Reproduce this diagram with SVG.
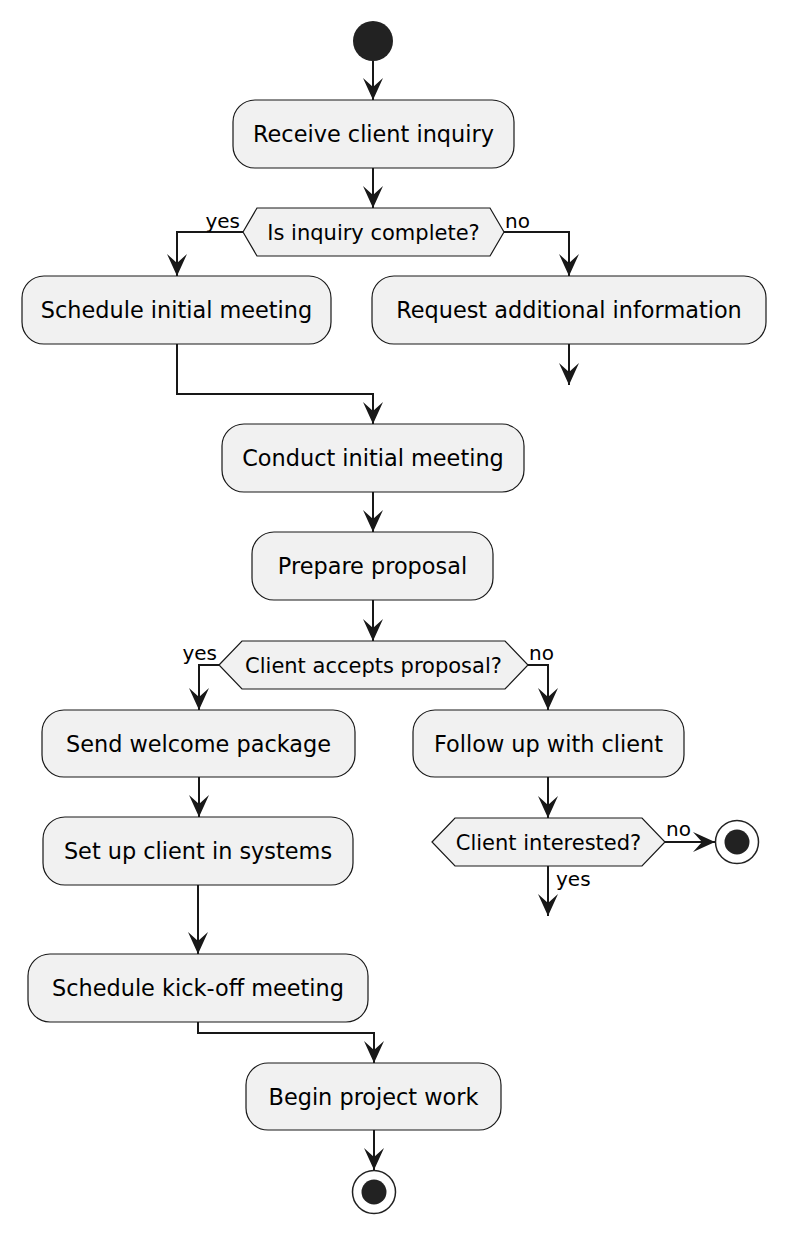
<svg xmlns="http://www.w3.org/2000/svg" width="786" height="1234" viewBox="0 0 786 1234">
<style>
.box{fill:#F1F1F1;stroke:#181818;stroke-width:1.2}
.dia{fill:#F1F1F1;stroke:#181818;stroke-width:1.2}
.t{font-family:"DejaVu Sans",sans-serif;font-size:22.4px;fill:#000;text-anchor:middle}
.dt{font-family:"DejaVu Sans",sans-serif;font-size:21px;fill:#000;text-anchor:middle}
.lbl{font-family:"DejaVu Sans",sans-serif;font-size:20px;fill:#000}
.c{fill:none;stroke:#181818;stroke-width:2;marker-end:url(#ah)}
</style>
<defs>
<marker id="ah" markerUnits="userSpaceOnUse" viewBox="0 0 22 20" refX="22" refY="10" markerWidth="22" markerHeight="20" orient="auto">
<path d="M0,0 L22,10 L0,20 L9,10 Z" fill="#181818"/>
</marker>
</defs>
<rect width="786" height="1234" fill="#FFFFFF"/>
<g id="connectors">
<path class="c" d="M373,61 V100"/>
<path class="c" d="M373,168 V208"/>
<path class="c" d="M243,232 H177 V276"/>
<path class="c" d="M504,232 H569 V276"/>
<path class="c" d="M569,344 V385"/>
<path class="c" d="M177,344 V394 H373 V424"/>
<path class="c" d="M373,492 V532"/>
<path class="c" d="M373,600 V641"/>
<path class="c" d="M219,665 H199 V710"/>
<path class="c" d="M528,665 H548 V710"/>
<path class="c" d="M199,777 V817"/>
<path class="c" d="M548,777 V818"/>
<path class="c" d="M665,842 H715"/>
<path class="c" d="M548,866 V916"/>
<path class="c" d="M198,885 V954"/>
<path class="c" d="M198,1022 V1033 H374 V1063"/>
<path class="c" d="M374,1130 V1170"/>
<text class="lbl" x="240" y="228" text-anchor="end">yes</text>
<text class="lbl" x="505" y="228">no</text>
<text class="lbl" x="217" y="660" text-anchor="end">yes</text>
<text class="lbl" x="529" y="660">no</text>
<text class="lbl" x="666" y="836">no</text>
<text class="lbl" x="556" y="886">yes</text>
</g>
<g id="start"><circle cx="373" cy="41" r="20" fill="#222222"/></g>
<g id="receive"><rect class="box" x="233" y="100" width="281" height="68" rx="22"/><text class="t" x="373.5" y="142">Receive client inquiry</text></g>
<g id="decision1"><polygon class="dia" points="243,232 257,208 490,208 504,232 490,256 257,256"/><text class="dt" x="373.5" y="239.5">Is inquiry complete?</text></g>
<g id="schedule"><rect class="box" x="22" y="276" width="309" height="68" rx="22"/><text class="t" x="176.5" y="318">Schedule initial meeting</text></g>
<g id="request"><rect class="box" x="372" y="276" width="394" height="68" rx="22"/><text class="t" x="569" y="318">Request additional information</text></g>
<g id="conduct"><rect class="box" x="222" y="424" width="302" height="68" rx="22"/><text class="t" x="373" y="466">Conduct initial meeting</text></g>
<g id="prepare"><rect class="box" x="252" y="532" width="241" height="68" rx="22"/><text class="t" x="372.5" y="574">Prepare proposal</text></g>
<g id="decision2"><polygon class="dia" points="219,665 242,641 505,641 528,665 505,689 242,689"/><text class="dt" x="373.5" y="672.5">Client accepts proposal?</text></g>
<g id="send"><rect class="box" x="42" y="710" width="313" height="67" rx="22"/><text class="t" x="198.5" y="751.5">Send welcome package</text></g>
<g id="follow"><rect class="box" x="413" y="710" width="271" height="67" rx="22"/><text class="t" x="548.5" y="751.5">Follow up with client</text></g>
<g id="setup"><rect class="box" x="43" y="817" width="310" height="68" rx="22"/><text class="t" x="198" y="859">Set up client in systems</text></g>
<g id="decision3"><polygon class="dia" points="432,842 455,818 642,818 665,842 642,866 455,866"/><text class="dt" x="548.5" y="849.5">Client interested?</text></g>
<g id="end1"><circle cx="737" cy="842" r="21.5" fill="#FFFFFF" stroke="#222222" stroke-width="1.5"/><circle cx="737" cy="842" r="12.5" fill="#222222"/></g>
<g id="kickoff"><rect class="box" x="28" y="954" width="340" height="68" rx="22"/><text class="t" x="198" y="996">Schedule kick-off meeting</text></g>
<g id="begin"><rect class="box" x="246" y="1063" width="255" height="67" rx="22"/><text class="t" x="373.5" y="1104.5">Begin project work</text></g>
<g id="end2"><circle cx="374" cy="1192" r="21.5" fill="#FFFFFF" stroke="#222222" stroke-width="1.5"/><circle cx="374" cy="1192" r="12.5" fill="#222222"/></g>
</svg>
